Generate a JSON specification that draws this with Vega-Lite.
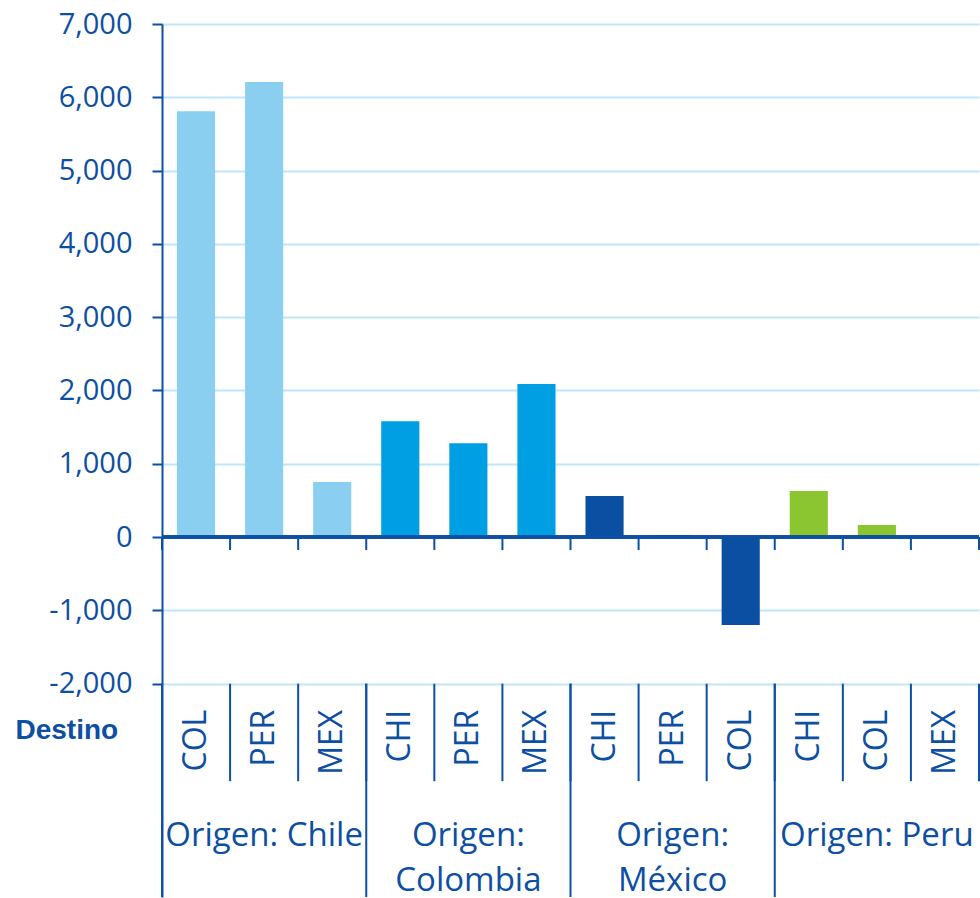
{
  "$schema": "https://vega.github.io/schema/vega-lite/v6.json",
  "autosize": "none",
  "width": 817,
  "height": 873,
  "padding": {"left": 162, "top": 24, "right": 1, "bottom": 1},
  "background": "white",
  "config": {"view": {"stroke": null}, "font": "Open Sans"},
  "datasets": {
    "barras": [
      {"k": "Chile COL", "origen": "Chile", "destino": "COL", "valor": 5810},
      {"k": "Chile PER", "origen": "Chile", "destino": "PER", "valor": 6210},
      {"k": "Chile MEX", "origen": "Chile", "destino": "MEX", "valor": 750},
      {"k": "Colombia CHI", "origen": "Colombia", "destino": "CHI", "valor": 1580},
      {"k": "Colombia PER", "origen": "Colombia", "destino": "PER", "valor": 1280},
      {"k": "Colombia MEX", "origen": "Colombia", "destino": "MEX", "valor": 2090},
      {"k": "México CHI", "origen": "México", "destino": "CHI", "valor": 560},
      {"k": "México PER", "origen": "México", "destino": "PER", "valor": 30},
      {"k": "México COL", "origen": "México", "destino": "COL", "valor": -1200},
      {"k": "Peru CHI", "origen": "Peru", "destino": "CHI", "valor": 630},
      {"k": "Peru COL", "origen": "Peru", "destino": "COL", "valor": 165},
      {"k": "Peru MEX", "origen": "Peru", "destino": "MEX", "valor": 5}
    ],
    "grupos": [
      {"k": "Chile PER", "etiqueta": "Origen: Chile"},
      {"k": "Colombia PER", "etiqueta": "Origen:\nColombia"},
      {"k": "México PER", "etiqueta": "Origen:\nMéxico"},
      {"k": "Peru COL", "etiqueta": "Origen: Peru"}
    ]
  },
  "data": {"name": "barras"},
  "encoding": {
    "x": {
      "field": "k",
      "type": "nominal",
      "sort": null,
      "scale": {"paddingInner": 0.44, "paddingOuter": 0.22},
      "axis": null
    }
  },
  "layer": [
    {
      "mark": {"type": "bar"},
      "encoding": {
        "y": {
          "field": "valor",
          "type": "quantitative",
          "scale": {"domain": [-4910, 7000], "nice": false, "zero": false},
          "axis": {
            "values": [-2000, -1000, 0, 1000, 2000, 3000, 4000, 5000, 6000, 7000],
            "format": ",d",
            "labelExpr": "replace(datum.label, '\u2212', '-')",
            "grid": true,
            "gridColor": "#BEE6F7",
            "gridWidth": 2,
            "domainColor": "#0D4FA2",
            "domainWidth": 2,
            "tickColor": "#0D4FA2",
            "tickWidth": 2,
            "tickSize": 10,
            "labelFontSize": 29,
            "labelColor": "#0D4FA2",
            "labelPadding": 20,
            "title": "Destino",
            "titleAngle": 0,
            "titleX": -147,
            "titleY": 714,
            "titleAlign": "left",
            "titleBaseline": "alphabetic",
            "titleFont": "Liberation Sans",
            "titleFontWeight": "bold",
            "titleFontSize": 28,
            "titleColor": "#0D4FA2"
          }
        },
        "color": {
          "field": "origen",
          "type": "nominal",
          "scale": {
            "domain": ["Chile", "Colombia", "México", "Peru"],
            "range": ["#8ACFF0", "#009FE3", "#0B4FA2", "#8BC631"]
          },
          "legend": null
        }
      }
    },
    {
      "mark": {"type": "rule", "color": "#0D4FA2", "strokeWidth": 2.5},
      "encoding": {"x": null, "y": {"datum": 0}}
    },
    {
      "mark": {"type": "rule", "color": "#0D4FA2", "strokeWidth": 2},
      "encoding": {
        "x": {"field": "k", "type": "nominal", "sort": null, "bandPosition": -0.3929},
        "y": {"datum": 0},
        "y2": {"datum": -177}
      }
    },
    {
      "transform": [{"filter": "datum.k == 'Peru MEX'"}],
      "mark": {"type": "rule", "color": "#0D4FA2", "strokeWidth": 2},
      "encoding": {
        "x": {"field": "k", "type": "nominal", "sort": null, "bandPosition": 1.3929},
        "y": {"datum": 0},
        "y2": {"datum": -177}
      }
    },
    {
      "mark": {"type": "rule", "color": "#0D4FA2", "strokeWidth": 2},
      "encoding": {
        "x": {"field": "k", "type": "nominal", "sort": null, "bandPosition": -0.3929},
        "y": {"datum": -2000},
        "y2": {"datum": -3330}
      }
    },
    {
      "transform": [{"filter": "datum.k == 'Peru MEX'"}],
      "mark": {"type": "rule", "color": "#0D4FA2", "strokeWidth": 2},
      "encoding": {
        "x": {"field": "k", "type": "nominal", "sort": null, "bandPosition": 1.3929},
        "y": {"datum": -2000},
        "y2": {"datum": -3330}
      }
    },
    {
      "transform": [{"filter": {"field": "k", "oneOf": ["Chile COL", "Colombia CHI", "México CHI", "Peru CHI"]}}],
      "mark": {"type": "rule", "color": "#0D4FA2", "strokeWidth": 2},
      "encoding": {
        "x": {"field": "k", "type": "nominal", "sort": null, "bandPosition": -0.3929},
        "y": {"datum": -2000},
        "y2": {"datum": -4910}
      }
    },
    {
      "mark": {"type": "text", "angle": 270, "align": "right", "baseline": "middle", "fontSize": 32, "color": "#0D4FA2"},
      "encoding": {
        "y": {"datum": -2355},
        "text": {"field": "destino"}
      }
    },
    {
      "data": {"name": "grupos"},
      "mark": {"type": "text", "align": "center", "baseline": "alphabetic", "fontSize": 33, "lineHeight": 45, "lineBreak": "\n", "color": "#0D4FA2"},
      "encoding": {
        "y": {"datum": -4220},
        "text": {"field": "etiqueta"}
      }
    }
  ]
}
